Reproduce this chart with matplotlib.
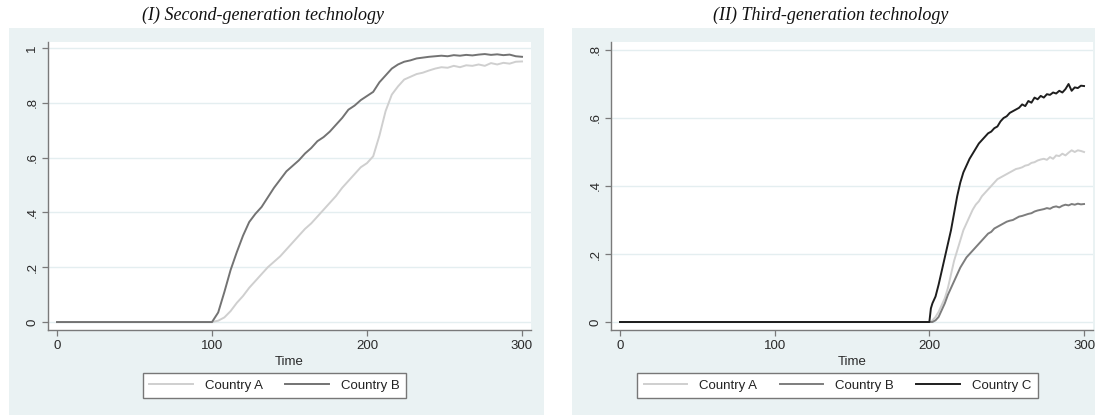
import matplotlib
matplotlib.use("Agg")
import matplotlib.pyplot as plt
from matplotlib.patches import Rectangle
from matplotlib.lines import Line2D

# ---------------- data ----------------
left_time = [0, 100, 104, 108, 112, 116, 120, 124, 128, 132, 136, 140, 144, 148, 152, 156,
             160, 164, 168, 172, 176, 180, 184, 188, 192, 196, 200, 204, 208, 212, 216,
             220, 224, 228, 232, 236, 240, 244, 248, 252, 256, 260, 264, 268, 272, 276,
             280, 284, 288, 292, 296, 300]
left_A = [0, 0, .005, .017, .04, .07, .095, .125, .15, .175, .2, .22, .24, .265, .29, .315,
          .34, .36, .385, .41, .435, .46, .49, .515, .54, .565, .58, .605, .68, .77, .83,
          .86, .885, .895, .905, .91, .918, .925, .93, .928, .935, .93, .937, .935, .94, .935,
          .945, .94, .946, .943, .95, .951]
left_B = [0, 0, .035, .11, .19, .255, .315, .365, .395, .42, .455, .49, .52, .55, .57, .59,
          .615, .635, .66, .675, .695, .72, .745, .775, .79, .81, .825, .84, .875, .90, .925,
          .94, .95, .955, .962, .965, .968, .97, .972, .97, .974, .972, .975, .973, .976, .978,
          .975, .977, .974, .976, .97, .968]

right_time = [0, 200, 201, 202, 204, 206, 208, 210, 212, 214, 216, 218, 220, 222, 224, 226,
              228, 230, 232, 234, 236, 238, 240, 242, 244, 246, 248, 250, 252, 254, 256,
              258, 260, 262, 264, 266, 268, 270, 272, 274, 276, 278, 280, 282, 284, 286,
              288, 290, 292, 294, 296, 298, 300]
right_A = [0, 0, 0, .005, .015, .03, .05, .07, .10, .14, .18, .21, .24, .27, .29, .31,
           .33, .345, .355, .37, .38, .39, .40, .41, .42, .425, .43, .435, .44, .445, .45,
           .452, .455, .46, .462, .468, .47, .475, .478, .48, .477, .485, .48, .49, .488, .495,
           .49, .498, .505, .50, .505, .503, .50]
right_B = [0, 0, 0, 0, .005, .015, .035, .055, .08, .10, .12, .14, .16, .175, .19, .20,
           .21, .22, .23, .24, .25, .26, .265, .275, .28, .285, .29, .295, .298, .30, .305,
           .31, .312, .315, .318, .32, .325, .328, .33, .332, .335, .333, .338, .34, .337, .342,
           .345, .343, .347, .345, .348, .346, .347]
right_C = [0, 0, .04, .055, .075, .11, .15, .19, .23, .27, .32, .37, .41, .44, .46, .48,
           .495, .51, .525, .535, .545, .555, .56, .57, .575, .59, .60, .605, .615, .62, .625,
           .63, .64, .635, .65, .645, .66, .655, .665, .66, .67, .668, .675, .672, .68, .675,
           .685, .70, .68, .69, .688, .695, .694]

x_ticks = [0, 100, 200, 300]
left_yticks = [0, .2, .4, .6, .8, 1]
left_ylabels = ["0", ".2", ".4", ".6", ".8", "1"]
right_yticks = [0, .2, .4, .6, .8]
right_ylabels = ["0", ".2", ".4", ".6", ".8"]
titles = ["(I) Second-generation technology", "(II) Third-generation technology"]
labels = ["Country A", "Country B", "Country C"]

# ---------------- style ----------------
W, H = 1097, 416
BG = "#EAF2F3"
GRID = "#E4EEF0"
AXC = "#7a7a7a"
colA, colB_left, colB_right, colC = "#cfcfcf", "#737373", "#7d7d7d", "#1e1e1e"
plt.rcParams["font.family"] = ["Liberation Sans", "DejaVu Sans"]

fig = plt.figure(figsize=(W / 100, H / 100), dpi=100)
fig.patch.set_facecolor("white")


def fx(px):
    return px / W


def fy(py):
    return 1 - py / H


# background panels
fig.add_artist(Rectangle((fx(9), fy(415)), fx(544) - fx(9), fy(28) - fy(415),
                         transform=fig.transFigure, facecolor=BG, edgecolor="none", zorder=0))
fig.add_artist(Rectangle((fx(572), fy(415)), fx(1095) - fx(572), fy(28) - fy(415),
                         transform=fig.transFigure, facecolor=BG, edgecolor="none", zorder=0))

ax1 = fig.add_axes([fx(48), fy(330), fx(531) - fx(48), fy(42) - fy(330)])
ax2 = fig.add_axes([fx(611), fy(330), fx(1093) - fx(611), fy(42) - fy(330)])


def style(ax, yt, yl, ylim):
    ax.set_facecolor("white")
    ax.set_xlim(-5.8, 305.8)
    ax.set_ylim(*ylim)
    ax.set_xticks(x_ticks)
    ax.set_xticklabels([str(t) for t in x_ticks])
    ax.set_yticks(yt)
    ax.set_yticklabels(yl, rotation=90, va="center")
    for s in ["top", "right"]:
        ax.spines[s].set_visible(False)
    for s in ["left", "bottom"]:
        ax.spines[s].set_color(AXC)
        ax.spines[s].set_linewidth(1.0)
    ax.tick_params(axis="both", colors=AXC, labelcolor="#2a2a2a", labelsize=9.5,
                   length=4, width=0.9, direction="out", pad=3)
    ax.grid(axis="y", color=GRID, linewidth=1.0, zorder=0)
    ax.grid(axis="x", visible=False)
    ax.set_axisbelow(True)
    ax.set_xlabel("Time", fontsize=9.5, color="#2a2a2a", labelpad=3)


style(ax1, left_yticks, left_ylabels, (-0.029, 1.022))
style(ax2, right_yticks, right_ylabels, (-0.0235, 0.8235))

lw = 1.4
ax1.plot(left_time, left_A, color=colA, lw=lw, zorder=3)
ax1.plot(left_time, left_B, color=colB_left, lw=lw, zorder=4)
ax2.plot(right_time, right_A, color=colA, lw=lw, zorder=3)
ax2.plot(right_time, right_B, color=colB_right, lw=lw, zorder=4)
ax2.plot(right_time, right_C, color=colC, lw=lw, zorder=5)

# titles
fig.text(fx(263), fy(15), titles[0], ha="center", va="center", fontsize=13,
         style="italic", family=["Liberation Serif", "DejaVu Serif"], color="#111111")
fig.text(fx(831), fy(15), titles[1], ha="center", va="center", fontsize=13,
         style="italic", family=["Liberation Serif", "DejaVu Serif"], color="#111111")

# legends
h1 = [Line2D([], [], color=colA, lw=lw), Line2D([], [], color=colB_left, lw=lw)]
h2 = [Line2D([], [], color=colA, lw=lw), Line2D([], [], color=colB_right, lw=lw),
      Line2D([], [], color=colC, lw=lw)]
for handles, labs, cx in [(h1, labels[:2], 274.5), (h2, labels, 837.5)]:
    leg = fig.legend(handles, labs, loc="center", bbox_to_anchor=(fx(cx), fy(385.5)),
                     ncol=len(labs), fontsize=9.5, frameon=True, fancybox=False,
                     handlelength=3.3, columnspacing=1.7, handletextpad=0.9,
                     borderpad=0.5, borderaxespad=0.3, labelcolor="#222222")
    fr = leg.get_frame()
    fr.set_edgecolor("#777777")
    fr.set_linewidth(1.0)
    fr.set_facecolor("white")
    fr.set_alpha(1)

fig.savefig("out.png", dpi=100, facecolor="white")
